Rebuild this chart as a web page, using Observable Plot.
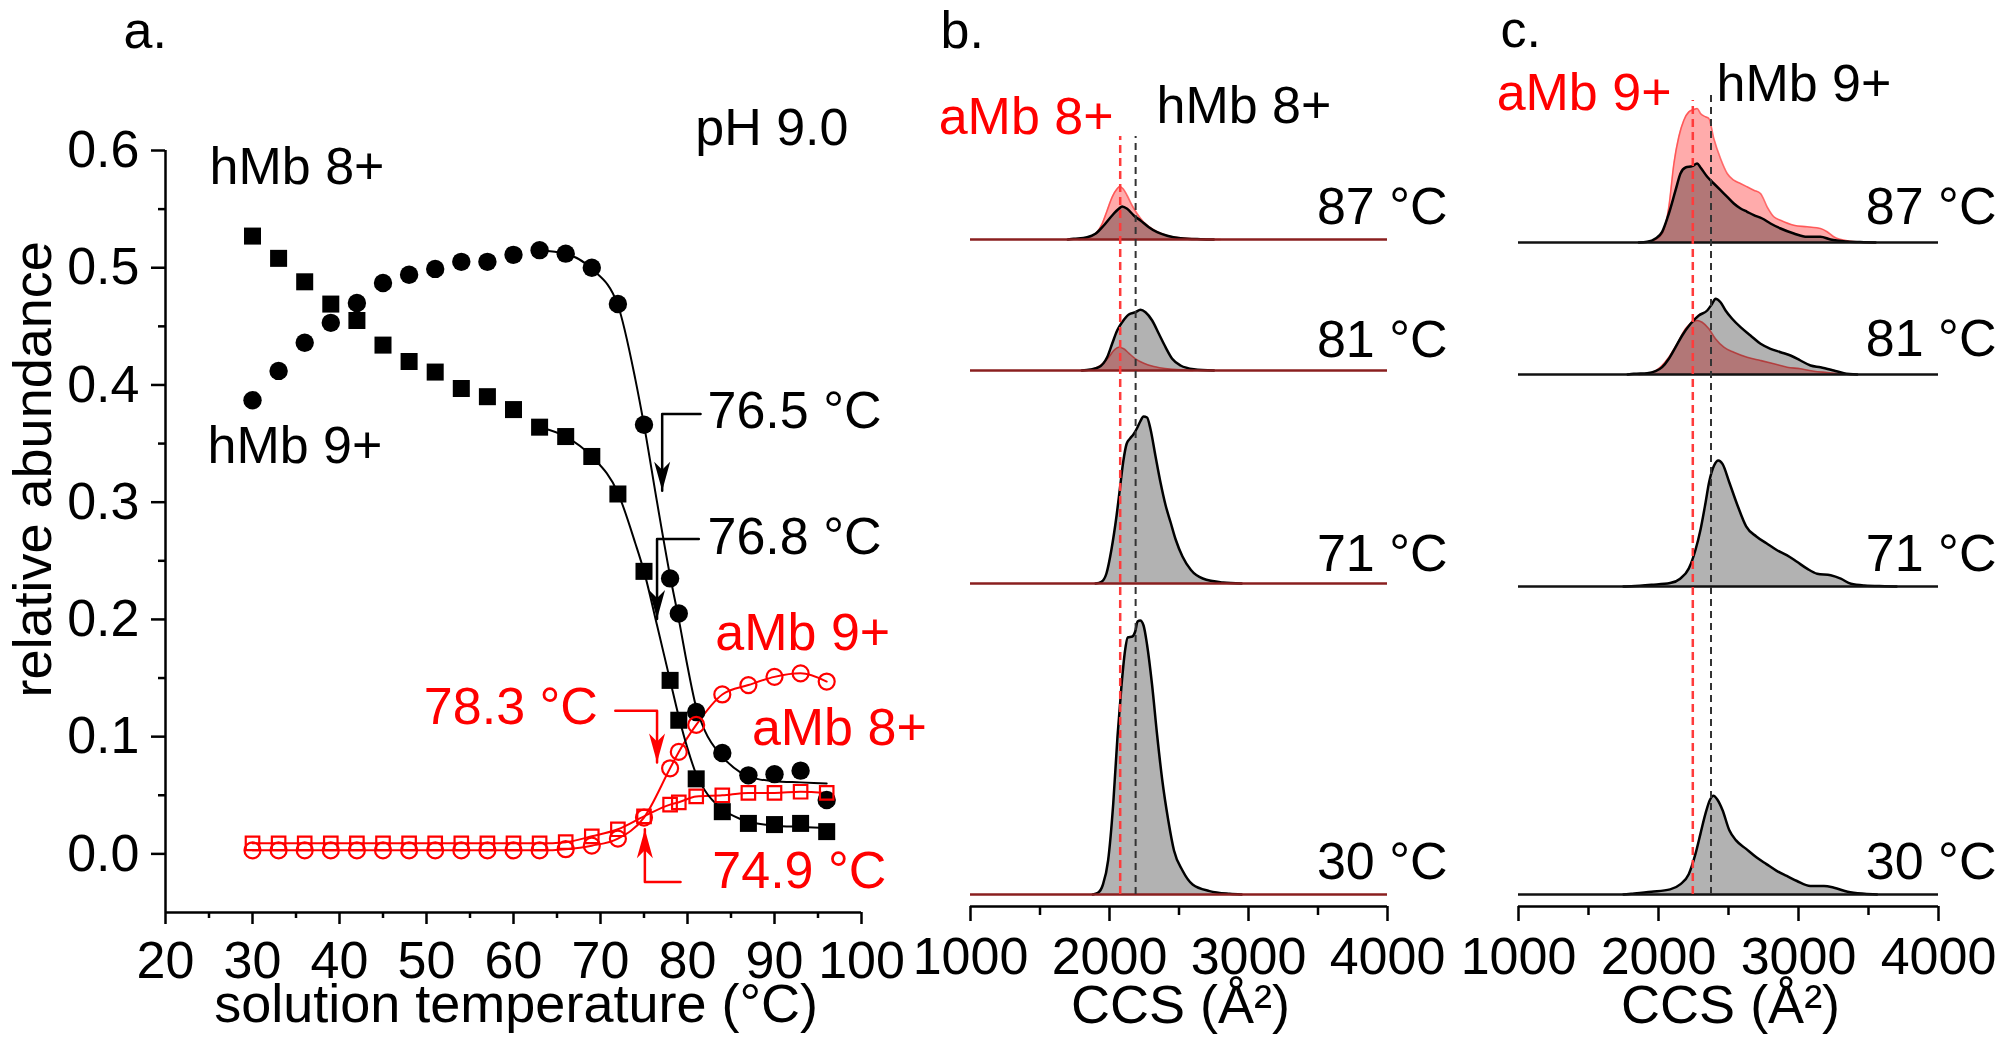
<!DOCTYPE html>
<html><head><meta charset="utf-8">
<script src="https://cdn.jsdelivr.net/npm/d3@7"></script>
<script src="https://cdn.jsdelivr.net/npm/@observablehq/plot@0.6"></script>
<style>
html,body{margin:0;padding:0;background:#fff;}
#wrap{position:relative;width:2010px;height:1046px;overflow:hidden;background:#fff;}
#wrap svg{position:absolute;left:0;top:0;background:transparent !important;font-family:"Liberation Sans",Arial,sans-serif !important;max-width:none !important;}
</style></head><body><div id="wrap"></div>
<script>
// ---------- Panel a data ----------
const temps = [30,33,36,39,42,45,48,51,54,57,60,63,66,69,72,75,78,79,81,84,87,90,93,96];
const hMb8 = [0.527,0.508,0.488,0.469,0.455,0.434,0.420,0.411,0.397,0.390,0.379,0.364,0.356,0.339,0.307,0.241,0.148,0.114,0.064,0.036,0.026,0.025,0.026,0.019];
const hMb9 = [0.387,0.412,0.436,0.453,0.470,0.487,0.494,0.499,0.505,0.505,0.511,0.515,0.512,0.500,0.469,0.366,0.235,0.205,0.121,0.086,0.067,0.068,0.071,0.046];
const aMb8 = [0.009,0.009,0.009,0.009,0.009,0.009,0.009,0.009,0.009,0.009,0.009,0.009,0.010,0.015,0.021,0.032,0.042,0.044,0.049,0.050,0.052,0.052,0.053,0.052];
const aMb9 = [0.003,0.003,0.003,0.003,0.003,0.003,0.003,0.003,0.003,0.003,0.003,0.003,0.004,0.007,0.013,0.031,0.073,0.087,0.110,0.136,0.144,0.151,0.154,0.147];
// fitted sigmoid curves
const fitT    = [63,66,69,72,74,75,76.5,78,79,80,81,82,84,86,88,90,93,96];
const fitHMb9 = [0.515,0.512,0.499,0.468,0.405,0.366,0.300,0.237,0.200,0.160,0.125,0.105,0.083,0.070,0.064,0.062,0.061,0.060];
const fitHMb8 = [0.364,0.356,0.339,0.308,0.265,0.241,0.195,0.148,0.117,0.090,0.068,0.054,0.038,0.030,0.026,0.024,0.023,0.022];
const xMajorA = [20,30,40,50,60,70,80,90,100];
const xMinorA = [25,35,45,55,65,75,85,95];
const yMajorA = [0,0.1,0.2,0.3,0.4,0.5,0.6];
const yMinorA = [0.05,0.15,0.25,0.35,0.45,0.55];
// annotations panel a (data coords)
const aTexts = [
  {x:15.17, y:0.7015, text:"a.", anchor:"start", color:"black"},
  {x:98.5, y:0.6188, text:"pH 9.0", anchor:"end", color:"black"},
  {x:25.06, y:0.5855, text:"hMb 8+", anchor:"start", color:"black"},
  {x:24.83, y:0.3478, text:"hMb 9+", anchor:"start", color:"black"},
  {x:82.3, y:0.3772, text:"76.5 °C", anchor:"start", color:"black"},
  {x:82.3, y:0.270, text:"76.8 °C", anchor:"start", color:"black"},
  {x:83.2, y:0.1878, text:"aMb 9+", anchor:"start", color:"#ff0000"},
  {x:87.4, y:0.1067, text:"aMb 8+", anchor:"start", color:"#ff0000"},
  {x:69.7, y:0.1246, text:"78.3 °C", anchor:"end", color:"#ff0000"},
  {x:82.85, y:-0.015, text:"74.9 °C", anchor:"start", color:"#ff0000"}
];
const aBrackets = [
  {id:"b765", color:"black", pts:[[81.5,0.3753],[77.09,0.3753],[77.09,0.3098]], dir:"down"},
  {id:"b768", color:"black", pts:[[81.3,0.2686],[76.5,0.2686],[76.5,0.2003]], dir:"down"},
  {id:"b783", color:"#ff0000", pts:[[71.7,0.122],[76.5,0.122],[76.5,0.0779]], dir:"down"},
  {id:"b749", color:"#ff0000", pts:[[79.2,-0.024],[75.1,-0.024],[75.1,0.021]], dir:"up"}
];

// ---------- Panels b & c data: [CCS, intensity] ----------
const stackTemps = [30,71,81,87];
const bBase = [0,311,524,655];
const cBase = [0,308,520,652];
const b_h8_30 = [[1880,0],[1917,1.7],[1953,10],[1990,34],[2027,91],[2058,159],[2087,210],[2111,243],[2131,257],[2165,258],[2185,263],[2202,273],[2221,274],[2245,269],[2270,250],[2306,210],[2343,159],[2379,115],[2423,74],[2464,44],[2525,24],[2598,10],[2720,3.4],[2865,0.7],[2950,0]];
const b_h8_71 = [[1900,0],[1942,1.7],[1978,10],[2014,34],[2051,68],[2075,95],[2099,122],[2124,140],[2148,145],[2172,149],[2197,155],[2221,162],[2245,167],[2270,166],[2294,155],[2330,128],[2367,101],[2404,78],[2440,61],[2476,44],[2525,27],[2586,13.5],[2671,5],[2817,1],[2950,0]];
const b_h8_81 = [[1800,0],[1863,1],[1923,3.3],[1983,13.3],[2019,26.7],[2055,40],[2091,48.3],[2139,56],[2187,58.3],[2223,60.7],[2259,58.3],[2307,50],[2355,36.7],[2403,23.3],[2451,11.7],[2511,5],[2607,1.3],[2751,0]];
const b_a8_81 = [[1800,0],[1863,0.7],[1935,5],[1995,13.3],[2031,20],[2067,23.3],[2103,21.7],[2139,17.3],[2187,11.7],[2247,7.3],[2319,4],[2415,1.7],[2511,0.7],[2600,0]];
const b_h8_87 = [[1700,0],[1743,0.7],[1839,2.3],[1899,5.7],[1959,14],[2019,24],[2067,30.7],[2091,33],[2127,30.7],[2175,24],[2223,19],[2283,12.3],[2343,7.3],[2415,3.7],[2511,1.3],[2655,0.3],[2750,0]];
const b_a8_87 = [[1780,0],[1839,1.3],[1899,5.7],[1947,15.7],[1983,29],[2019,42.3],[2055,50.7],[2074,53],[2098,50.7],[2127,44],[2163,34],[2199,25.7],[2247,17.3],[2307,10.7],[2391,5],[2511,1.7],[2703,0.3],[2800,0]];
const c_h9_30 = [[1750,0],[1805,0.7],[1950,2.7],[2083,5.1],[2155,10.1],[2216,20.3],[2264,40.6],[2300,60.9],[2336,81.1],[2368,94.7],[2392,98.7],[2421,94.7],[2457,84.5],[2506,64.2],[2554,54.1],[2626,45.6],[2699,37.2],[2771,30.4],[2844,23.7],[2916,18.6],[2989,13.5],[3085,8.5],[3182,8.5],[3254,6.8],[3351,2.7],[3471,0.7],[3560,0]];
const c_h9_71 = [[1750,0],[1805,0.3],[1950,1.7],[2083,3.4],[2155,7.8],[2216,17.9],[2264,36.5],[2300,56.8],[2336,83.8],[2361,104],[2397,121],[2428,126],[2457,122.6],[2506,104],[2566,80.5],[2626,60.2],[2699,50],[2771,43.3],[2844,36.5],[2916,31.4],[2989,24.7],[3061,17.9],[3133,12.8],[3230,11.2],[3302,7.8],[3375,2.7],[3471,1],[3616,0.3],[3700,0]];
const c_h9_81 = [[1780,0],[1824,0.7],[1919,1.3],[1979,3.3],[2026,7.3],[2074,15.7],[2122,27.3],[2169,39],[2229,50.7],[2288,59],[2348,64],[2383,70.7],[2407,75.7],[2443,72.3],[2479,64],[2526,55.7],[2586,47.3],[2657,39],[2729,30.7],[2800,25.7],[2872,22.3],[2943,19],[3014,14],[3086,9],[3157,7.3],[3252,4],[3324,1.3],[3419,0]];
const c_a9_81 = [[1860,0],[1919,0.7],[2014,7.3],[2074,17.3],[2133,30.7],[2193,45.7],[2241,52.3],[2276,54],[2312,52.3],[2360,45.7],[2407,35.7],[2467,27.3],[2538,22.3],[2633,17.3],[2729,14],[2824,10.7],[2919,7.3],[3014,5.7],[3110,3.3],[3205,2],[3300,0.7],[3380,0]];
const c_h9_87 = [[1860,0],[1919,0.7],[1979,4],[2026,10.7],[2074,29],[2122,52.3],[2157,69],[2193,75],[2241,76.3],[2276,79],[2300,75],[2348,65.7],[2395,59],[2443,52.3],[2491,45.7],[2538,39],[2586,34],[2633,30.7],[2681,27.3],[2741,24],[2800,19],[2872,14],[2967,9],[3062,5.7],[3157,5.7],[3229,3],[3348,1],[3467,0.3],[3550,0]];
const c_a9_87 = [[1910,0],[1967,2.3],[2026,9],[2074,35.7],[2110,79],[2145,105.7],[2181,122.3],[2217,130.7],[2252,133],[2276,134],[2300,129],[2336,125.7],[2360,124],[2395,104],[2443,84],[2491,69],[2538,62.3],[2586,59],[2633,55.7],[2681,52.3],[2729,49],[2776,35.7],[2824,25.7],[2872,22.3],[2967,17.3],[3062,15.7],[3157,14],[3205,10.7],[3252,5.7],[3348,1.7],[3467,0.3],[3550,0]];
const xMajorBC = [1000,2000,3000,4000];
const xMinorBC = [1500,2500,3500];
const bDash = {aMb:2077, hMb:2188, aTop:758, hTop:758};
const cDash = {aMb:2245, hMb:2375, aTop:794, hTop:799};

const W = 2010, H = 1046;
const FONT = 52;
const RED = "#ff0000";

// custom arrowhead symbols (style)
const headDown = {draw(ctx){ctx.moveTo(0,0);ctx.lineTo(-8,-29);ctx.lineTo(0,-21);ctx.lineTo(8,-29);ctx.closePath();}};
const headUp = {draw(ctx){ctx.moveTo(0,0);ctx.lineTo(-8,29);ctx.lineTo(0,21);ctx.lineTo(8,29);ctx.closePath();}};

function textMarks(data, fontSize){
  return ["start","middle","end"].map(a =>
    Plot.text(data.filter(d => (d.anchor || "middle") === a), {x:"x", y:"y", text:"text", fill:"color", textAnchor:a, fontSize}));
}

// ---------- Panel a ----------
const ptsA = temps.map((t,i)=>({t, hMb8:hMb8[i], hMb9:hMb9[i], aMb8:aMb8[i], aMb9:aMb9[i]}));
const fitA = fitT.map((t,i)=>({t, h9:fitHMb9[i], h8:fitHMb8[i]}));
const brRows = aBrackets.flatMap(b => b.pts.map(([x,y]) => ({id:b.id, color:b.color, x, y})));
const tips = aBrackets.map(b => ({x:b.pts[2][0], y:b.pts[2][1], color:b.color, dir:b.dir}));

const plotA = Plot.plot({
  width:W, height:H, marginLeft:165, marginRight:W-861, marginTop:150, marginBottom:134,
  x:{domain:[20,100]}, y:{domain:[-0.05,0.6]},
  marks:[
    Plot.ruleX([20], {y1:-0.05, y2:0.6, stroke:"black", strokeWidth:2.5}),
    Plot.ruleY([-0.05], {x1:20, x2:100, stroke:"black", strokeWidth:2.5}),
    Plot.axisY(yMajorA, {tickSize:14, tickPadding:12, fontSize:FONT, tickFormat:d3.format(".1f"), strokeWidth:2.5, stroke:"black", fill:"black", label:null}),
    Plot.axisY(yMinorA, {tickSize:7, fill:"none", tickFormat:()=>"", strokeWidth:2.5, stroke:"black", label:null}),
    Plot.axisX(xMajorA, {tickSize:12, tickPadding:17, fontSize:FONT, tickFormat:d3.format("d"), strokeWidth:2.5, stroke:"black", fill:"black", label:null}),
    Plot.axisX(xMinorA, {tickSize:6, fill:"none", tickFormat:()=>"", strokeWidth:2.5, stroke:"black", label:null}),
    // fits
    Plot.line(ptsA, {x:"t", y:"aMb8", stroke:RED, strokeWidth:2, curve:"monotone-x"}),
    Plot.line(ptsA, {x:"t", y:"aMb9", stroke:RED, strokeWidth:2, curve:"monotone-x"}),
    Plot.line(fitA, {x:"t", y:"h9", stroke:"black", strokeWidth:2, curve:"monotone-x"}),
    Plot.line(fitA, {x:"t", y:"h8", stroke:"black", strokeWidth:2, curve:"monotone-x"}),
    // markers
    Plot.dot(ptsA, {x:"t", y:"hMb8", symbol:"square", r:9.6, fill:"black", stroke:"none"}),
    Plot.dot(ptsA, {x:"t", y:"hMb9", symbol:"circle", r:9.2, fill:"black", stroke:"none"}),
    Plot.dot(ptsA, {x:"t", y:"aMb8", symbol:"square", r:7.6, fill:"none", stroke:RED, strokeWidth:2.2}),
    Plot.dot(ptsA, {x:"t", y:"aMb9", symbol:"circle", r:8, fill:"none", stroke:RED, strokeWidth:2.2}),
    // annotation brackets
    Plot.line(brRows, {x:"x", y:"y", z:"id", stroke:"color", strokeWidth:2.5, curve:"linear"}),
    Plot.dot(tips.filter(d=>d.dir==="down"), {x:"x", y:"y", fill:"color", stroke:"none", symbol:headDown, r:10}),
    Plot.dot(tips.filter(d=>d.dir==="up"), {x:"x", y:"y", fill:"color", stroke:"none", symbol:headUp, r:10}),
    // texts
    ...textMarks(aTexts, FONT),
    Plot.text([{x:4.83, y:0.328, t:"relative abundance"}], {x:"x", y:"y", text:"t", rotate:-90, fontSize:54, fill:"black"}),
    Plot.text([{x:60.3, y:-0.129, t:"solution temperature (°C)"}], {x:"x", y:"y", text:"t", fontSize:54, fill:"black"})
  ]
});

// ---------- Spectra panels ----------
function rows(temp, pairs, bases){
  const base = bases[stackTemps.indexOf(temp)];
  return pairs.map(([ccs,v]) => ({temp, ccs, y1:base, y2:base+v}));
}
function spectraPlot(opts){
  const {left, right, hData, aData, bases, dash, labels, labelX, labelLift, baseColor, title} = opts;
  const baseRows = bases.map((b,i)=>({b, temp:stackTemps[i]}));
  return Plot.plot({
    width:W, height:H, marginLeft:left, marginRight:W-right, marginTop:90, marginBottom:140,
    x:{domain:[1000,4000]}, y:{domain:[-12,804], axis:null},
    marks:[
      Plot.ruleY([-12], {x1:1000, x2:4000, stroke:"black", strokeWidth:2.5}),
      Plot.axisX(xMajorBC, {tickSize:15, tickPadding:16, fontSize:FONT, tickFormat:d3.format("d"), strokeWidth:2.5, stroke:"black", fill:"black", label:null}),
      Plot.axisX(xMinorBC, {tickSize:9, fill:"none", tickFormat:()=>"", strokeWidth:2.5, stroke:"black", label:null}),
      Plot.areaY(aData, {x:"ccs", y1:"y1", y2:"y2", z:"temp", fill:RED, fillOpacity:0.33, curve:"monotone-x"}),
      Plot.line(aData, {x:"ccs", y:"y2", z:"temp", stroke:"#ff3333", strokeOpacity:0.7, strokeWidth:1.6, curve:"monotone-x"}),
      Plot.areaY(hData, {x:"ccs", y1:"y1", y2:"y2", z:"temp", fill:"black", fillOpacity:0.3, curve:"monotone-x"}),
      Plot.line(hData, {x:"ccs", y:"y2", z:"temp", stroke:"black", strokeWidth:2.5, curve:"monotone-x"}),
      Plot.ruleY(baseRows, {y:"b", x1:1000, x2:4000, stroke:baseColor, strokeWidth:2.5}),
      Plot.ruleX([dash.aMb], {y1:0, y2:dash.aTop, stroke:"#ff3b3b", strokeWidth:2.5, strokeDasharray:"8,5"}),
      Plot.ruleX([dash.hMb], {y1:0, y2:dash.hTop, stroke:"#333", strokeWidth:2, strokeDasharray:"7,5"}),
      Plot.text(baseRows, {x:labelX, y:(d,i)=>d.b+labelLift[i], text:d=>`${d.temp} °C`, textAnchor:"end", fontSize:FONT, fill:"black"}),
      ...textMarks(labels, FONT),
      Plot.text([title], {x:"x", y:"y", text:"text", fontSize:54, fill:"black"})
    ]
  });
}
const bH = [...rows(30,b_h8_30,bBase), ...rows(71,b_h8_71,bBase), ...rows(81,b_h8_81,bBase), ...rows(87,b_h8_87,bBase)];
const bA = [...rows(81,b_a8_81,bBase), ...rows(87,b_a8_87,bBase)];
const cH = [...rows(30,c_h9_30,cBase), ...rows(71,c_h9_71,cBase), ...rows(81,c_h9_81,cBase), ...rows(87,c_h9_87,cBase)];
const cA = [...rows(81,c_a9_81,cBase), ...rows(87,c_a9_87,cBase)];

const plotB = spectraPlot({left:970, right:1387, hData:bH, aData:bA, bases:bBase, dash:bDash,
  labels:[
    {x:784, y:863, text:"b.", color:"black", anchor:"start"},
    {x:2029, y:777, text:"aMb 8+", color:RED, anchor:"end"},
    {x:2338, y:788, text:"hMb 8+", color:"black", anchor:"start"}],
  labelX:4432, labelLift:[32,29,30,32], baseColor:"#8a1f1f", title:{x:2510, y:-111, text:"CCS (Å²)"}});
const plotC = spectraPlot({left:1518, right:1938, hData:cH, aData:cA, bases:cBase, dash:cDash,
  labels:[
    {x:871, y:864, text:"c.", color:"black", anchor:"start"},
    {x:2093, y:801, text:"aMb 9+", color:RED, anchor:"end"},
    {x:2414, y:810, text:"hMb 9+", color:"black", anchor:"start"}],
  labelX:4414, labelLift:[32,32,35,35], baseColor:"#111", title:{x:2515, y:-111, text:"CCS (Å²)"}});

const wrap = document.getElementById("wrap");
wrap.append(plotA, plotB, plotC);
</script></body></html>
